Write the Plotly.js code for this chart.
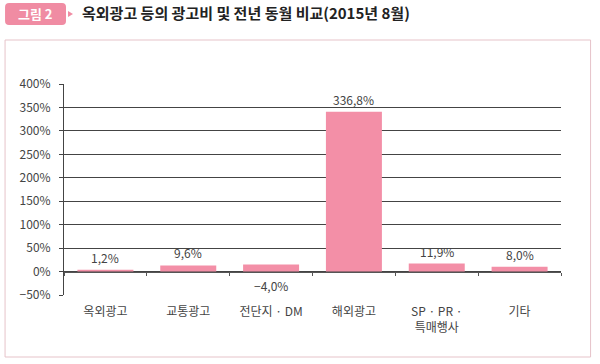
<!DOCTYPE html>
<html><head><meta charset="utf-8">
<script src="https://cdn.plot.ly/plotly-3.0.1.min.js"></script>
<style>html,body{margin:0;padding:0;background:#fff}#chart{width:600px;height:364px}</style>
</head><body><div id="chart"></div>
<script>
// Data
const categories = ['옥외광고', '교통광고', '전단지 · DM', '해외광고', 'SP · PR ·<br>특매행사', '기타'];
const barHeights = [4, 13, 15, 341, 17, 10];          // bar heights as drawn in the reference (%)
const labelValues = [1.2, 9.6, -4.0, 336.8, 11.9, 8.0]; // values printed on the chart (%)
const yTickVals = [-50, 0, 50, 100, 150, 200, 250, 300, 350, 400];
const titleText = '옥외광고 등의 광고비 및 전년 동월 비교(2015년 8월)';
const tagText = '그림 2';

const yMin = -50, yMax = 400;
const FONT = '"Noto Sans CJK KR", "Noto Sans", sans-serif';
const M = {l: 64, r: 38.6, t: 84, b: 69};
const W = 600 - M.l - M.r, H = 364 - M.t - M.b;
const px = x => (x - M.l) / W;
const py = y => (364 - M.b - y) / H;
const fmt = v => v.toFixed(1).replace('.', ',') + '%';

const pink = '#f38fa7';

const traces = [
  {type: 'bar', x: categories, y: barHeights, marker: {color: pink}, hoverinfo: 'skip', xaxis: 'x', yaxis: 'y'},
  {type: 'scatter', mode: 'markers', x: categories, y: barHeights, marker: {opacity: 0}, hoverinfo: 'skip', xaxis: 'x2', yaxis: 'y', showlegend: false}
];

const annotations = categories.map((c, i) => {
  const neg = labelValues[i] < 0;
  return {
    x: c, y: neg ? 0 : Math.max(barHeights[i], 0), xref: 'x', yref: 'y',
    text: fmt(labelValues[i]).replace('-', '\u2212'), showarrow: false,
    yanchor: neg ? 'top' : 'bottom', yshift: neg ? -3 : 2,
    font: {family: FONT, size: 12, color: '#444'}
  };
});
annotations.push({
  xref: 'paper', yref: 'paper', x: px(35.5), y: py(14), text: '<b>' + tagText + '</b>',
  showarrow: false, xanchor: 'center', yanchor: 'middle',
  font: {family: FONT, size: 13, color: '#ffffff'}
});

function roundRect(x0, y0, x1, y1, r) {
  const X = v => px(v), Y = v => py(v);
  return `M${X(x0 + r)},${Y(y0)} L${X(x1 - r)},${Y(y0)} Q${X(x1)},${Y(y0)} ${X(x1)},${Y(y0 + r)} ` +
         `L${X(x1)},${Y(y1 - r)} Q${X(x1)},${Y(y1)} ${X(x1 - r)},${Y(y1)} L${X(x0 + r)},${Y(y1)} ` +
         `Q${X(x0)},${Y(y1)} ${X(x0)},${Y(y1 - r)} L${X(x0)},${Y(y0 + r)} Q${X(x0)},${Y(y0)} ${X(x0 + r)},${Y(y0)} Z`;
}

const shapes = [
  {type: 'rect', xref: 'paper', yref: 'paper', x0: px(5), x1: px(591), y0: py(357), y1: py(40),
   line: {color: '#e6c3c9', width: 1}, fillcolor: 'rgba(0,0,0,0)', layer: 'below'},
  {type: 'path', xref: 'paper', yref: 'paper', path: roundRect(5, 3, 66, 25, 4),
   fillcolor: '#f08ca3', line: {width: 0}},
  {type: 'path', xref: 'paper', yref: 'paper',
   path: `M${px(68)},${py(11)} L${px(73)},${py(14)} L${px(68)},${py(17)} Z`,
   fillcolor: '#f08ca3', line: {width: 0}}
];

const layout = {
  width: 600, height: 364,
  margin: M,
  paper_bgcolor: '#fff', plot_bgcolor: '#fff',
  showlegend: false,
  bargap: 0.324,
  font: {family: FONT, size: 12, color: '#444'},
  title: {
    text: '<b>' + titleText + '</b>', xref: 'container', yref: 'container',
    x: 82 / 600, xanchor: 'left', y: 1 - 14 / 364, yanchor: 'middle',
    font: {family: FONT, size: 15, color: '#222'}
  },
  xaxis: {
    type: 'category', showgrid: false, zeroline: false, showline: false, ticks: '',
    ticklabelstandoff: 8,
    tickfont: {family: FONT, size: 12, color: '#444'}, fixedrange: true
  },
  xaxis2: {
    type: 'category', overlaying: 'x', matches: 'x', anchor: 'free',
    position: (0 - yMin) / (yMax - yMin), side: 'bottom',
    showgrid: false, zeroline: false, showline: true, linecolor: '#555', linewidth: 1,
    ticks: 'outside', tickson: 'boundaries', ticklen: 3, tickcolor: '#555',
    showticklabels: false
  },
  yaxis: {
    range: [yMin, yMax], tickvals: yTickVals, ticktext: yTickVals.map(v => (v < 0 ? '\u2212' + Math.abs(v) : v) + '%'),
    showgrid: true, gridcolor: '#444', gridwidth: 1, zeroline: false,
    showline: true, linecolor: '#444', linewidth: 1,
    ticks: 'outside', ticklen: 4, tickcolor: '#444', ticklabelstandoff: 6,
    tickfont: {family: FONT, size: 12, color: '#444'}, fixedrange: true
  },
  annotations: annotations,
  shapes: shapes
};

Plotly.newPlot('chart', traces, layout, {displayModeBar: false, staticPlot: true});
</script>
</body></html>
